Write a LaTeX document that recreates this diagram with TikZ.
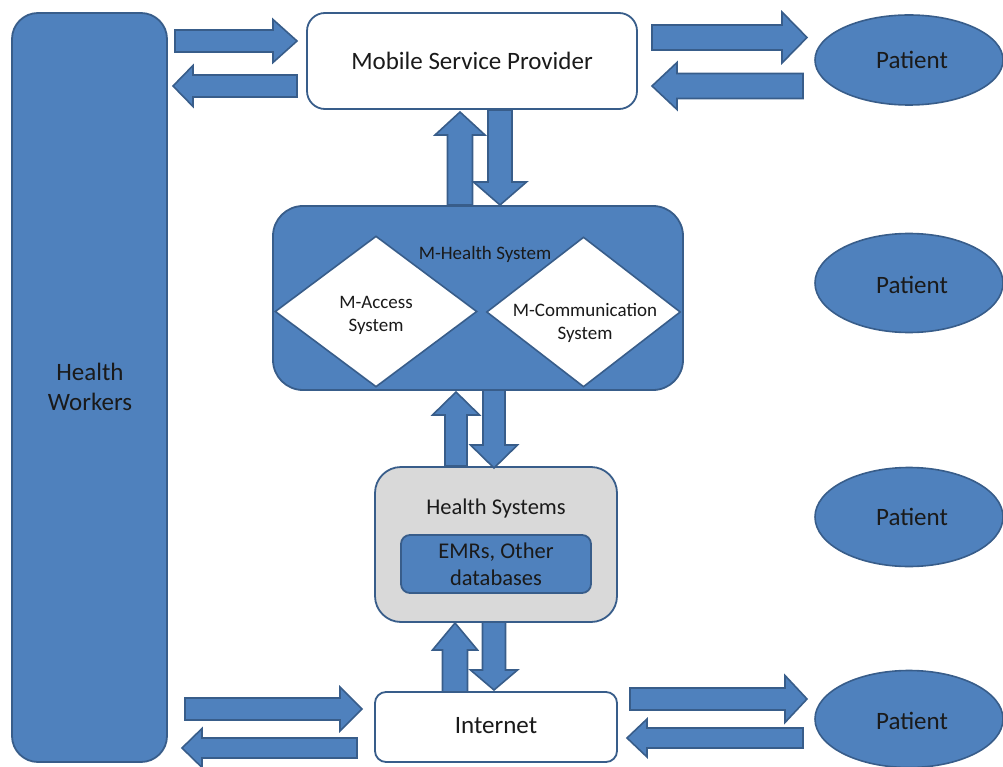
\documentclass[tikz,border=0pt]{standalone}
\usepackage{fontspec}
\setmainfont{Carlito}
\usetikzlibrary{calc,shapes.geometric}

\definecolor{boxblue}{HTML}{4F81BD}
\definecolor{edgeblue}{HTML}{385D8A}
\definecolor{panelgray}{HTML}{D9D9D9}
\definecolor{ink}{HTML}{1A1A1A}

% Block arrow from tail #1 to tip #2: shaft half-width #3, head half-width #4, head length #5
\newcommand\flow[5]{%
  \coordinate (fb) at ($(#2)!#5!(#1)$);
  \draw[flowarrow] ($(#1)!#3!90:(#2)$) -- ($(fb)!#3!90:(#2)$) -- ($(fb)!#4!90:(#2)$)
    -- (#2) -- ($(fb)!#4!-90:(#2)$) -- ($(fb)!#3!-90:(#2)$) -- ($(#1)!#3!-90:(#2)$) -- cycle;}

\tikzset{
  flowarrow/.style={fill=boxblue, draw=edgeblue, line width=1.6pt, line join=miter},
  bluebox/.style={rectangle, fill=boxblue, draw=edgeblue, line width=1.8pt, inner sep=0pt},
  whitebox/.style={rectangle, fill=white, draw=edgeblue, line width=1.8pt, inner sep=0pt},
  patient/.style={ellipse, fill=boxblue, draw=edgeblue, line width=1.6pt, inner sep=0pt,
    minimum width=188pt},
  gem/.style={diamond, fill=white, draw=edgeblue, line width=1.6pt, inner sep=0pt},
  lbl/.style={font=\fontsize{25}{30}\selectfont, text=ink, align=center, inner sep=0pt},
  small/.style={font=\fontsize{19}{23}\selectfont, text=ink, align=center, inner sep=0pt},
  mid/.style={font=\fontsize{22.5}{27}\selectfont, text=ink, align=center, inner sep=0pt},
}

\begin{document}
\begin{tikzpicture}[x=1pt, y=-1pt]
\useasboundingbox (0,0) rectangle (1003,767);

% Boxes
\node[bluebox, rounded corners=26pt, minimum width=155pt, minimum height=749pt] (hw) at (89.5,387.5) {};
\node[lbl] at (90,387) {Health\\Workers};

\node[whitebox, rounded corners=18pt, minimum width=330pt, minimum height=96pt] (msp) at (472,61) {};
\node[lbl] at (472,61) {Mobile Service Provider};

\node[bluebox, rounded corners=30pt, minimum width=410pt, minimum height=184pt] (mh) at (478,298) {};
\node[gem, minimum width=202pt, minimum height=151pt] (acc) at (376,311.5) {};
\node[gem, minimum width=194pt, minimum height=150pt] (com) at (583.5,312) {};
\node[small] at (485,254) {M-Health System};
\node[small] at (376,315) {M-Access\\System};
\node[small] at (585,322.5) {M-Communication\\System};

\node[rectangle, fill=panelgray, draw=edgeblue, line width=1.8pt, rounded corners=26pt,
  minimum width=242pt, minimum height=155pt] (hs) at (496,544.5) {};
\node[mid] at (496,508) {Health Systems};
\node[bluebox, rounded corners=9pt, minimum width=190pt, minimum height=58pt] (emr) at (496,564) {};
\node[mid] at (496,564) {EMRs, Other\\databases};

\node[whitebox, rounded corners=11pt, minimum width=242pt, minimum height=70pt] (inet) at (496,727) {};
\node[lbl] at (496,726) {Internet};

% Patients
\node[patient, minimum height=90pt] (p1) at (909,60) {};
\node[patient, minimum height=99pt] (p2) at (909,283) {};
\node[patient, minimum height=99pt] (p3) at (909,517) {};
\node[patient, minimum height=97pt] (p4) at (909,719) {};
\node[lbl] at (912,60) {Patient};
\node[lbl] at (912,285) {Patient};
\node[lbl] at (912,517) {Patient};
\node[lbl] at (912,721) {Patient};

% Arrow end points
\coordinate (a1s) at (175,41);   \coordinate (a1e) at (297,41);
\coordinate (a2s) at (297,86);   \coordinate (a2e) at (173,86);
\coordinate (a3s) at (652,37.5); \coordinate (a3e) at (807,37.5);
\coordinate (a4s) at (803,86);   \coordinate (a4e) at (652,86);
\coordinate (a5s) at (460,205);  \coordinate (a5e) at (460,112);
\coordinate (a6s) at (500,110);  \coordinate (a6e) at (500,205);
\coordinate (a7s) at (456,466);  \coordinate (a7e) at (456,392);
\coordinate (a8s) at (494,390);  \coordinate (a8e) at (494,468);
\coordinate (a9s) at (455,692);  \coordinate (a9e) at (455,623);
\coordinate (a10s) at (494,622); \coordinate (a10e) at (494,690);
\coordinate (a11s) at (185,709); \coordinate (a11e) at (362,709);
\coordinate (a12s) at (357,748); \coordinate (a12e) at (182,748);
\coordinate (a13s) at (630,699); \coordinate (a13e) at (807,699);
\coordinate (a14s) at (803,738); \coordinate (a14e) at (627,738);

% Block arrows
\flow{a1s}{a1e}{11pt}{21.5pt}{24pt}
\flow{a2s}{a2e}{11pt}{20.5pt}{20pt}
\flow{a3s}{a3e}{12.5pt}{25.5pt}{25pt}
\flow{a4s}{a4e}{12.5pt}{23.5pt}{25pt}
\flow{a5s}{a5e}{12.5pt}{25pt}{23pt}
\flow{a6s}{a6e}{12pt}{26.5pt}{23pt}
\flow{a7s}{a7e}{11pt}{23.5pt}{23pt}
\flow{a8s}{a8e}{11pt}{23.5pt}{23pt}
\flow{a9s}{a9e}{12.5pt}{22.5pt}{27pt}
\flow{a10s}{a10e}{11.5pt}{23.5pt}{20pt}
\flow{a11s}{a11e}{11pt}{22pt}{22pt}
\flow{a12s}{a12e}{10pt}{19.5pt}{20pt}
\flow{a13s}{a13e}{11pt}{23.5pt}{22pt}
\flow{a14s}{a14e}{10pt}{19pt}{20pt}
\end{tikzpicture}
\end{document}
